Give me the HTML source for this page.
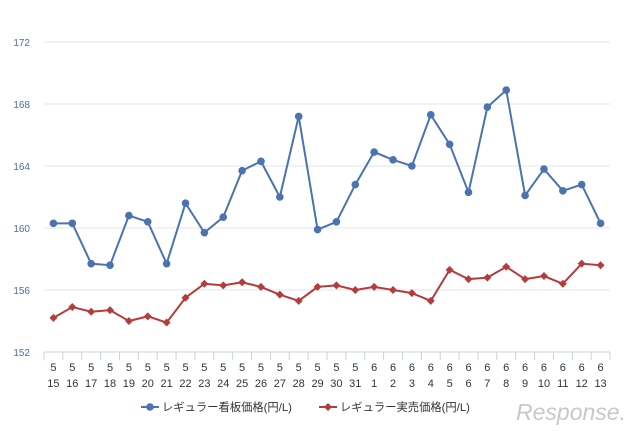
<!DOCTYPE html>
<html><head><meta charset="utf-8"><style>
body{margin:0;background:#fff;width:640px;height:432px;overflow:hidden;font-family:"Liberation Sans","Noto Sans CJK JP",sans-serif}
</style></head><body>
<svg id="c" width="640" height="432" style="position:absolute;left:0;top:0"></svg>
<script>
const cats=["5/15","5/16","5/17","5/18","5/19","5/20","5/21","5/22","5/23","5/24","5/25","5/26","5/27","5/28","5/29","5/30","5/31","6/1","6/2","6/3","6/4","6/5","6/6","6/7","6/8","6/9","6/10","6/11","6/12","6/13"];
const signPrice=[160.3,160.3,157.7,157.6,160.8,160.4,157.7,161.6,159.7,160.7,163.7,164.3,162.0,167.2,159.9,160.4,162.8,164.9,164.4,164.0,167.3,165.4,162.3,167.8,168.9,162.1,163.8,162.4,162.8,160.3];
const actualPrice=[154.2,154.9,154.6,154.7,154.0,154.3,153.9,155.5,156.4,156.3,156.5,156.2,155.7,155.3,156.2,156.3,156.0,156.2,156.0,155.8,155.3,157.3,156.7,156.8,157.5,156.7,156.9,156.4,157.7,157.6];
const yTicks=[152,156,160,164,168,172];
const NS="http://www.w3.org/2000/svg",svg=document.getElementById('c');
const L=44,R=610,T=42,B=352,ymin=152,ymax=172;
const bw=(R-L)/cats.length;
const x=i=>L+bw*(i+0.5), y=v=>B-(v-ymin)/(ymax-ymin)*(B-T);
function mk(t,a,p){const e=document.createElementNS(NS,t);for(const k in a)e.setAttribute(k,a[k]);(p||svg).appendChild(e);return e;}
yTicks.forEach(v=>{
 const g=mk('line',{x1:L,x2:R,y1:y(v),y2:y(v),stroke:v===ymin?'#c5d3e3':'#e4e4e4','stroke-width':1});
 
 
 const t=mk('text',{x:30,y:y(v)+4,'text-anchor':'end','font-size':10,fill:'#4a6fa5'});t.textContent=v;
 
 
});
for(let i=0;i<=cats.length;i++){const tk=mk('line',{x1:L+bw*i,x2:L+bw*i,y1:B,y2:B+8,stroke:'#c5d3e3'});
 
 }
cats.forEach((c,i)=>{const [m,d]=c.split('/');
 const t1=mk('text',{x:x(i),y:371,'text-anchor':'middle','font-size':11,fill:'#333'});t1.textContent=m;
 
 
 const t2=mk('text',{x:x(i),y:387,'text-anchor':'middle','font-size':11,fill:'#333'});t2.textContent=d;
 
 
});
function series(data,col,name,diamond){
 const p=mk('polyline',{points:data.map((v,i)=>x(i)+','+y(v)).join(' '),fill:'none',stroke:col,'stroke-width':2});
 
 
 data.forEach((v,i)=>{let m;
  if(diamond){const cx=x(i),cy=y(v);m=mk('polygon',{points:`${cx},${cy-4} ${cx+4},${cy} ${cx},${cy+4} ${cx-4},${cy}`,fill:col});}
  else m=mk('circle',{cx:x(i),cy:y(v),r:3.8,fill:col});
  
  
 });
}
series(signPrice,'#4a73b0','sign-price',false);
series(actualPrice,'#b53c3c','actual-price',true);
const lg=mk('g',{});


mk('line',{x1:141,x2:159,y1:407,y2:407,stroke:'#4a73b0','stroke-width':2},lg);
mk('circle',{cx:150,cy:407,r:3.8,fill:'#4a73b0'},lg);
const lt1=mk('text',{x:162,y:411,'font-size':11.3,fill:'#333'},lg);lt1.textContent='レギュラー看板価格(円/L)';


mk('line',{x1:319,x2:337,y1:407,y2:407,stroke:'#b53c3c','stroke-width':2},lg);
mk('polygon',{points:'328,403 332,407 328,411 324,407',fill:'#b53c3c'},lg);
const lt2=mk('text',{x:340,y:411,'font-size':11.3,fill:'#333'},lg);lt2.textContent='レギュラー実売価格(円/L)';


const wm=mk('text',{x:516,y:420,'font-size':23,fill:'#c8c8c8','font-style':'italic'});wm.textContent='Response.';


</script>
</body></html>
